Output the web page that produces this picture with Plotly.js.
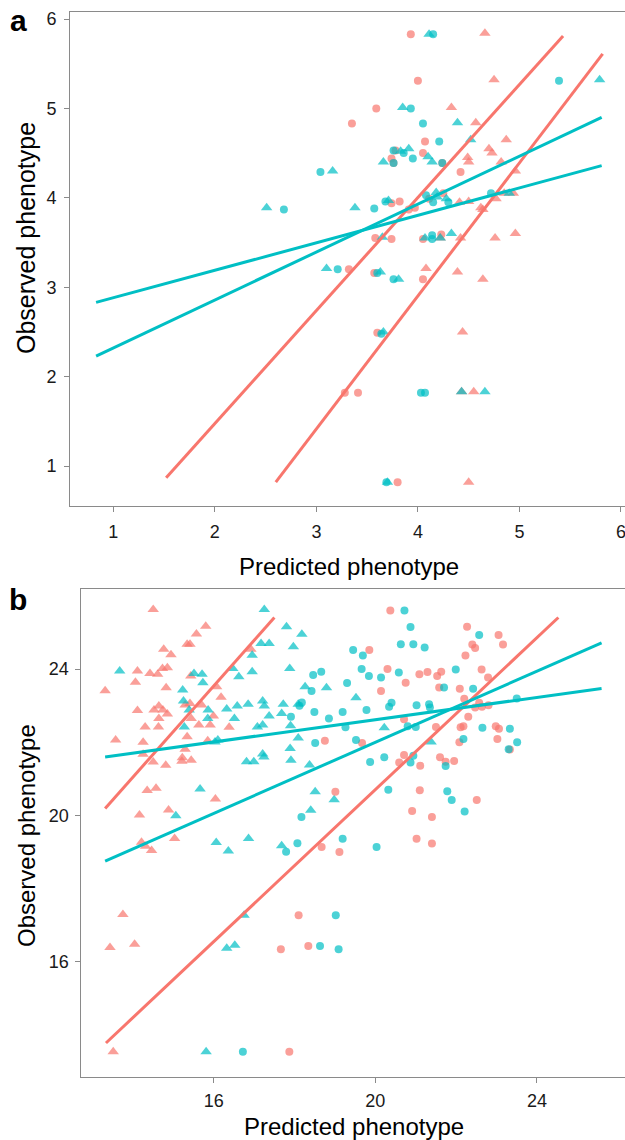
<!DOCTYPE html>
<html>
<head>
<meta charset="utf-8">
<script src="https://cdn.plot.ly/plotly-3.0.1.min.js"></script>
<style>html,body{margin:0;padding:0;background:#fff;}#chart{width:625px;height:1140px;}</style>
</head>
<body>
<div id="chart"></div>
<script>
// ---------- Panel a data ----------
var aRedCircX = [3.93,4.00,3.59,3.35,4.07,3.78,4.05,3.74,3.76,4.24,4.42,4.25,3.74,3.82,3.91,3.97,4.11,3.58,3.74,4.05,4.23,3.32,3.57,4.05,3.60,3.28,3.41,3.80];
var aRedCircY = [5.83,5.31,5.00,4.83,4.63,4.53,4.50,4.44,4.39,4.39,4.29,4.05,3.94,3.96,3.87,3.89,3.99,3.55,3.54,3.54,3.59,3.20,3.16,3.09,2.49,1.82,1.82,0.82];
var aRedTriX = [4.66,4.75,4.33,4.57,4.87,4.70,4.73,4.49,4.50,4.82,4.96,4.94,4.85,4.41,4.50,4.77,4.62,4.64,4.42,4.76,4.96,4.08,4.39,4.64,4.44,4.43,4.55,4.50,4.22];
var aRedTriY = [5.84,5.32,5.01,4.84,4.65,4.55,4.50,4.45,4.40,4.40,4.30,4.05,4.05,3.95,3.96,3.99,3.89,3.87,3.55,3.55,3.60,3.21,3.17,3.09,2.50,1.83,1.83,0.82,3.55];
var aTealCircX = [4.15,5.39,3.93,4.05,4.21,3.76,3.86,3.95,3.76,4.24,3.04,4.08,4.72,2.68,3.57,3.68,4.15,4.30,4.14,4.14,3.21,3.60,3.76,3.64,4.03,4.07,3.69];
var aTealCircY = [5.83,5.31,5.00,4.83,4.63,4.53,4.50,4.44,4.39,4.39,4.29,4.03,4.05,3.87,3.88,3.96,3.95,3.95,3.58,3.54,3.20,3.16,3.09,2.48,1.82,1.82,0.82];
var aTealTriX = [4.11,5.79,3.85,4.39,4.52,3.83,3.91,4.10,3.66,4.14,3.16,2.51,3.38,3.71,4.18,4.19,4.28,4.90,3.65,4.07,4.22,4.33,3.10,3.63,3.81,3.66,4.43,4.66,3.70];
var aTealTriY = [5.83,5.32,5.01,4.84,4.65,4.52,4.55,4.46,4.40,4.40,4.30,3.89,3.89,3.97,4.06,4.01,3.99,4.05,3.56,3.55,3.55,3.60,3.21,3.17,3.09,2.50,1.83,1.83,0.82];
var aRedLine1X = [1.52, 5.43], aRedLine1Y = [0.87, 5.81];
var aRedLine2X = [2.60, 5.82], aRedLine2Y = [0.82, 5.61];
var aTealLine1X = [0.83, 5.81], aTealLine1Y = [2.83, 4.36];
var aTealLine2X = [0.83, 5.81], aTealLine2Y = [2.23, 4.90];
var aTicks = [1, 2, 3, 4, 5, 6];

// ---------- Panel b data ----------
var bRedTriX = [14.50,15.80,15.57,15.34,15.41,14.76,14.94,14.11,14.42,14.61,14.73,14.85,14.06,15.43,14.82,13.31,16.07,16.18,15.41,15.29,15.70,14.64,14.74,14.52,14.85,14.11,14.64,15.44,15.63,15.91,15.99,14.30,14.63,16.38,13.57,14.25,15.34,15.85,15.29,14.25,15.22,15.44,15.21,14.50,14.81,14.35,14.57,16.04,14.16,14.88,14.21,14.31,14.46,15.03,13.75,13.43,14.04,13.51,16.92];
var bRedTriY = [25.63,25.17,24.96,24.68,24.68,24.54,24.39,23.95,23.88,23.86,24.02,24.04,23.64,23.81,23.49,23.41,23.52,23.23,23.06,23.02,23.02,22.99,22.88,22.88,22.77,22.87,22.65,22.65,22.47,22.47,22.72,22.42,22.42,22.41,22.06,22.00,22.15,22.04,21.81,21.67,21.58,21.51,21.48,21.46,21.37,20.68,20.74,20.45,20.01,20.15,19.27,19.16,19.04,19.37,17.29,16.39,16.48,13.54,24.54];
var bTealTriX = [17.25,17.80,18.18,17.17,17.37,17.97,16.95,13.67,16.47,16.95,17.88,16.62,15.51,15.71,15.73,18.26,18.79,15.23,15.25,17.21,17.25,16.85,16.58,16.32,15.86,15.85,15.39,17.72,17.68,18.09,17.37,16.51,15.27,17.08,17.21,17.90,18.09,16.10,16.03,17.89,17.21,17.24,16.81,16.99,17.91,18.37,15.66,18.51,15.06,16.06,16.36,16.86,17.68,18.98,18.40,16.75,16.32,16.52,15.81,19.52,20.22,21.38];
var bTealTriY = [25.63,25.16,24.95,24.70,24.70,24.61,24.38,23.95,24.02,23.93,24.02,23.79,23.88,23.86,23.63,23.52,23.49,23.43,23.13,23.13,22.99,23.04,22.99,22.91,22.88,22.65,22.88,23.04,22.79,23.04,22.72,22.65,22.42,22.42,22.47,22.45,22.12,22.06,22.01,21.83,21.68,21.60,21.47,21.47,21.51,21.38,20.72,20.65,19.99,19.26,19.03,19.37,19.17,20.43,20.14,17.27,16.37,16.45,13.54,23.22,22.40,22.01];
var bTealCircX = [18.46,18.66,18.42,19.30,18.18,18.12,18.49,17.91,18.85,19.19,19.26,18.51,20.72,20.87,22.57,20.63,20.94,21.22,19.45,19.69,19.66,20.58,19.84,20.14,21.99,21.70,22.42,23.50,20.40,20.34,19.78,21.02,21.33,21.35,20.80,21.00,22.65,23.33,19.52,22.18,23.51,23.30,20.22,19.87,20.94,20.87,21.74,20.32,21.78,21.89,22.21,18.17,18.07,17.79,19.19,20.03,19.02,18.63,19.09,16.72];
var bTealCircY = [23.84,23.93,23.40,23.62,23.09,23.00,22.83,22.70,22.65,22.83,22.41,21.98,25.60,25.15,24.93,24.68,24.68,24.59,24.52,24.37,24.00,23.91,23.81,23.77,23.99,23.50,23.46,23.20,23.08,22.97,22.88,23.01,23.04,22.95,22.44,22.42,22.40,22.37,22.06,22.09,22.00,21.81,21.59,21.46,21.63,21.45,21.35,20.70,20.66,20.42,20.11,19.96,19.24,19.01,19.36,19.14,17.27,16.43,16.34,13.54];
var bRedCircX = [18.75,20.37,22.27,23.05,23.16,22.40,22.47,19.85,22.23,20.30,21.09,21.29,21.53,21.63,22.63,22.79,20.75,21.58,22.09,20.14,22.20,22.57,22.47,22.64,22.80,20.71,22.30,21.50,22.11,22.18,22.98,23.06,23.02,22.08,19.67,23.33,20.71,20.59,21.60,21.74,21.95,21.11,21.10,19.01,22.51,20.91,21.40,21.02,21.40,18.67,19.11,18.10,18.34,17.66,17.87];
var bRedCircY = [22.04,25.60,25.16,24.93,24.67,24.67,24.58,24.52,24.37,24.00,23.86,23.92,23.81,23.93,23.99,23.77,23.63,23.50,23.46,23.40,23.19,23.08,22.95,22.97,23.01,22.63,22.70,22.42,22.41,22.44,22.44,22.37,22.09,22.00,21.98,21.80,21.65,21.45,21.59,21.47,21.49,21.36,20.69,20.65,20.42,20.12,19.96,19.36,19.23,19.14,19.00,17.27,16.43,16.34,13.54];
var bRedLine1X = [13.31, 17.50], bRedLine1Y = [20.19, 25.41];
var bRedLine2X = [13.33, 24.53], bRedLine2Y = [13.78, 25.41];
var bTealLine1X = [13.31, 25.60], bTealLine1Y = [21.60, 23.47];
var bTealLine2X = [13.31, 25.60], bTealLine2Y = [18.75, 24.72];
var bTicks = [16, 20, 24];

var xTitle = "Predicted phenotype";
var yTitle = "Observed phenotype";
var panelLabels = ["a", "b"];

// ---------- styling ----------
var RED = "#F8766D", TEAL = "#00BFC4";
var FONT = "Liberation Sans, Arial, Helvetica, sans-serif";
var W = 625, H = 1140;

function pts(x, y, color, symbol, xa, ya, size) {
  return {type: "scatter", mode: "markers", x: x, y: y, xaxis: xa, yaxis: ya,
    marker: {color: color, symbol: symbol, size: size, opacity: 0.7, line: {width: 0}},
    hoverinfo: "x+y", showlegend: false};
}
function ln(x, y, color, xa, ya) {
  return {type: "scatter", mode: "lines", x: x, y: y, xaxis: xa, yaxis: ya,
    line: {color: color, width: 3}, hoverinfo: "skip", showlegend: false};
}

var data = [
  pts(aRedCircX, aRedCircY, RED, "circle", "x", "y", 8),
  pts(aRedTriX, aRedTriY, RED, "triangle-up", "x", "y", 10),
  pts(aTealCircX, aTealCircY, TEAL, "circle", "x", "y", 8),
  pts(aTealTriX, aTealTriY, TEAL, "triangle-up", "x", "y", 10),
  ln(aRedLine1X, aRedLine1Y, RED, "x", "y"),
  ln(aRedLine2X, aRedLine2Y, RED, "x", "y"),
  ln(aTealLine1X, aTealLine1Y, TEAL, "x", "y"),
  ln(aTealLine2X, aTealLine2Y, TEAL, "x", "y"),
  pts(bRedTriX, bRedTriY, RED, "triangle-up", "x2", "y2", 10),
  pts(bTealTriX, bTealTriY, TEAL, "triangle-up", "x2", "y2", 10),
  pts(bRedCircX, bRedCircY, RED, "circle", "x2", "y2", 8),
  pts(bTealCircX, bTealCircY, TEAL, "circle", "x2", "y2", 8),
  ln(bRedLine1X, bRedLine1Y, RED, "x2", "y2"),
  ln(bRedLine2X, bRedLine2Y, RED, "x2", "y2"),
  ln(bTealLine1X, bTealLine1Y, TEAL, "x2", "y2"),
  ln(bTealLine2X, bTealLine2Y, TEAL, "x2", "y2")
];

function axis(extra) {
  var base = {showgrid: false, zeroline: false, showline: true, linecolor: "#8a8a8a", linewidth: 1,
    ticks: "outside", ticklen: 5, tickwidth: 1, tickcolor: "#8a8a8a",
    tickfont: {family: FONT, size: 18, color: "#1a1a1a"}, fixedrange: true, automargin: false,
    ticklabeloverflow: "allow"};
  for (var k in extra) base[k] = extra[k];
  return base;
}
function px(x) { return x / W; }
function py(y) { return 1 - y / H; }

var aTop = 12.3, aBot = 506, aLeft = 70;
var bTop = 589, bBot = 1077, bLeft = 80.5;

var layout = {
  width: W, height: H,
  margin: {l: 0, r: 0, t: 0, b: 0, pad: 0},
  paper_bgcolor: "#fff", plot_bgcolor: "#fff",
  font: {family: FONT},
  xaxis: axis({domain: [px(aLeft), 1], range: [0.573, 6.04], tickvals: aTicks, ticktext: aTicks.map(String), mirror: true, anchor: "y", ticklabelstandoff: 4}),
  yaxis: axis({domain: [py(aBot), py(aTop)], range: [0.553, 6.075], tickvals: aTicks, ticktext: aTicks.map(String), anchor: "x", ticklabelstandoff: 4}),
  xaxis2: axis({domain: [px(bLeft), 1], range: [12.70, 26.18], tickvals: bTicks, ticktext: bTicks.map(String), mirror: true, anchor: "y2", ticklabelstandoff: 2}),
  yaxis2: axis({domain: [py(bBot), py(bTop)], range: [12.85, 26.19], tickvals: bTicks, ticktext: bTicks.map(String), anchor: "x2", ticklabelstandoff: 2}),
  annotations: [
    {text: xTitle, xref: "paper", yref: "paper", x: px(349), y: py(566), xanchor: "center", yanchor: "middle", showarrow: false, font: {family: FONT, size: 24, color: "#000"}},
    {text: yTitle, xref: "paper", yref: "paper", x: px(26), y: py(238), xanchor: "center", yanchor: "middle", textangle: -90, showarrow: false, font: {family: FONT, size: 25, color: "#000"}},
    {text: xTitle, xref: "paper", yref: "paper", x: px(354), y: py(1126), xanchor: "center", yanchor: "middle", showarrow: false, font: {family: FONT, size: 24, color: "#000"}},
    {text: yTitle, xref: "paper", yref: "paper", x: px(27), y: py(836), xanchor: "center", yanchor: "middle", textangle: -90, showarrow: false, font: {family: FONT, size: 24, color: "#000"}},
    {text: "<b>" + panelLabels[0] + "</b>", xref: "paper", yref: "paper", x: px(18), y: py(21), xanchor: "center", yanchor: "middle", showarrow: false, font: {family: FONT, size: 30, color: "#000"}},
    {text: "<b>" + panelLabels[1] + "</b>", xref: "paper", yref: "paper", x: px(18), y: py(599), xanchor: "center", yanchor: "middle", showarrow: false, font: {family: FONT, size: 30, color: "#000"}}
  ]
};

Plotly.newPlot("chart", data, layout, {staticPlot: true, displayModeBar: false});
</script>
</body>
</html>
